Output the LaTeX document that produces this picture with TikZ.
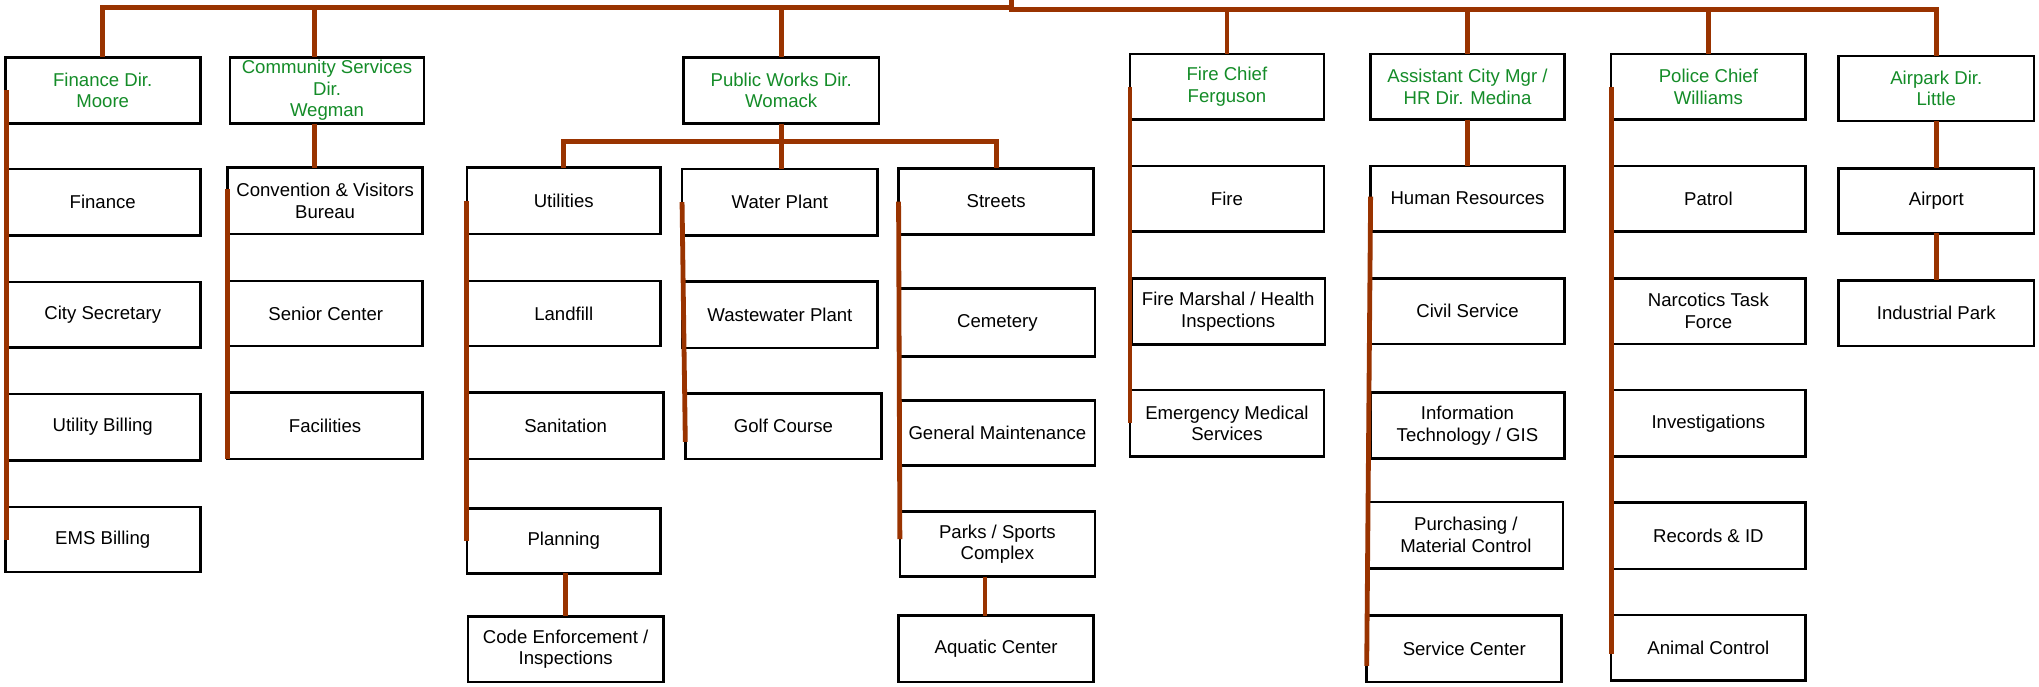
\documentclass[tikz,border=0pt]{standalone}
\usepackage{fontspec}
\setmainfont{Liberation Sans}
\definecolor{conncol}{RGB}{153,51,0}
\definecolor{headgreen}{RGB}{20,140,40}
\tikzset{
  orgnode/.style={draw=black, line width=2pt, fill=white, align=center,
    inner sep=0pt, outer sep=0pt, text=black, font=\fontsize{14.3}{16.6}\selectfont},
  headnode/.style={text=headgreen},
  conn/.style={draw=conncol, line width=3.7pt}
}
\newcommand{\orgbox}[7][]{%
  \node[orgnode,#1,minimum width={(#5-#3)*1pt},minimum height={(#6-#4)*1pt}]
    (#2) at ({(#3+#5)/2},{(#4+#6)/2}) {#7};}
\begin{document}
\begin{tikzpicture}[x=1pt,y=-1pt]
\useasboundingbox (0,0) rectangle (1568,528);
% Finance
\orgbox[headnode]{fd}{4}{44}{154}{95}{Finance Dir.\\Moore}
\orgbox{fin}{4}{130}{154}{181}{Finance}
\orgbox{csec}{4}{217}{154}{267}{City Secretary}
\orgbox{ub}{4}{303}{154}{354}{Utility Billing}
\orgbox{emsb}{4}{390}{154}{440}{EMS Billing}
% Community Services
\orgbox[headnode]{csd}{177}{44}{326}{95}{Community Services\\Dir.\\Wegman}
\orgbox{cvb}{175}{129}{325}{180}{Convention \& Visitors\\Bureau}
\orgbox{senc}{176}{216}{325}{266}{Senior Center}
\orgbox{fac}{175}{302}{325}{353}{Facilities}
% Public Works
\orgbox[headnode]{pwd}{525.5}{44}{676}{95}{Public Works Dir.\\Womack}
\orgbox{util}{359}{129}{508}{180}{Utilities}
\orgbox{land}{359}{216}{508}{266}{Landfill}
\orgbox{san}{360}{302}{510}{353}{Sanitation}
\orgbox{plan}{359}{391}{508}{441}{Planning}
\orgbox{code}{360}{474}{510}{524.5}{Code Enforcement /\\Inspections}
\orgbox{wp}{524.5}{130}{675}{181}{Water Plant}
\orgbox{ww}{524.5}{216.5}{675}{267.5}{Wastewater Plant}
\orgbox{golf}{527}{302.5}{678}{353}{Golf Course}
\orgbox{streets}{691}{129.5}{841}{180.5}{Streets}
\orgbox{cem}{692}{222}{842}{274}{Cemetery}
\orgbox{gm}{692}{308}{842}{358}{General Maintenance}
\orgbox{parks}{692}{393.5}{842}{443.5}{Parks / Sports\\Complex}
\orgbox{aqua}{691}{473.5}{841}{524.5}{Aquatic Center}
% Fire
\orgbox[headnode]{fc}{869}{41.5}{1018}{92}{Fire Chief\\Ferguson}
\orgbox{fire}{869}{127.5}{1018}{178}{Fire}
\orgbox{fm}{870}{214}{1019}{265}{Fire Marshal / Health\\Inspections}
\orgbox{ems}{869}{300}{1018}{351}{Emergency Medical\\Services}
% Assistant City Mgr
\orgbox[headnode]{acm}{1054}{41.5}{1203}{92}{Assistant City Mgr /\\HR Dir. Medina}
\orgbox{hr}{1054}{127.5}{1203}{178}{Human Resources}
\orgbox{civ}{1054}{214}{1203}{264.5}{Civil Service}
\orgbox{it}{1054}{302}{1203}{352.5}{Information\\Technology / GIS}
\orgbox{pur}{1052.5}{386}{1202}{437}{Purchasing /\\Material Control}
\orgbox{svc}{1051}{473.5}{1201}{524.5}{Service Center}
% Police
\orgbox[headnode]{pc}{1239}{41.5}{1388.5}{92}{Police Chief\\Williams}
\orgbox{pat}{1239}{127.5}{1388.5}{178}{Patrol}
\orgbox{nar}{1239}{214}{1388.5}{264.5}{Narcotics Task\\Force}
\orgbox{inv}{1239}{300}{1388.5}{351}{Investigations}
\orgbox{rec}{1239}{386.5}{1388.5}{437.5}{Records \& ID}
\orgbox{ani}{1239}{473}{1388.5}{523.5}{Animal Control}
% Airpark
\orgbox[headnode]{apd}{1414}{43}{1564}{93}{Airpark Dir.\\Little}
\orgbox{apt}{1414}{129.5}{1564}{179.5}{Airport}
\orgbox{ind}{1414}{215.5}{1564}{266}{Industrial Park}
% ---- connectors ----
\coordinate (rootTop) at (778,-3);
\coordinate (busL) at (778,5.8);
\coordinate (busR) at (778,7.2);
\draw[conn] (rootTop) -- ([yshift=-1.8pt]busR);
\draw[conn] (fd.north) |- (busL);
\draw[conn] ([xshift=-9.5pt]csd.north) |- (busL);
\draw[conn] (pwd.north) |- (busL);
\draw[conn] (fc.north) |- (busR);
\draw[conn] (acm.north) |- (busR);
\draw[conn] (pc.north) |- (busR);
\draw[conn] (apd.north) |- (busR);
% Finance
\draw[conn] ([xshift=1pt]fd.west) -- ([xshift=1pt]emsb.west);
% Community
\coordinate (csdrop) at ([xshift=-9.5pt]csd.south);
\draw[conn] (csdrop) -- (csdrop |- cvb.north);
\draw[conn] ([yshift=9.5pt]cvb.west) -- (fac.south west);
% Public Works
\coordinate (pwbus) at (601,109);
\draw[conn] (pwd.south) -- (pwd.south |- wp.north);
\draw[conn] (util.north) |- (pwbus) -| (streets.north);
\draw[conn] (util.west) -- (plan.west);
\draw[conn] ([xshift=1.5pt]plan.south) -- ([xshift=1.5pt]plan.south |- code.north);
\draw[conn] (wp.west) -- ([yshift=-12pt]golf.west);
\draw[conn] (streets.west) -- ([yshift=4pt]parks.west);
\coordinate (pkdrop) at ([xshift=-9.5pt]parks.south);
\draw[conn] (pkdrop) -- (pkdrop |- aqua.north);
% Fire
\draw[conn] (fc.west) -- (ems.west);
% Assistant
\draw[conn] (acm.south) -- (hr.north);
\draw[conn] ([yshift=1.5pt]hr.west) -- ([yshift=-13pt]svc.west);
% Police
\draw[conn] (pc.west) -- ([yshift=-5pt]ani.west);
% Airpark
\draw[conn] (apd.south) -- (apt.north);
\draw[conn] (apt.south) -- (ind.north);
\end{tikzpicture}
\end{document}
